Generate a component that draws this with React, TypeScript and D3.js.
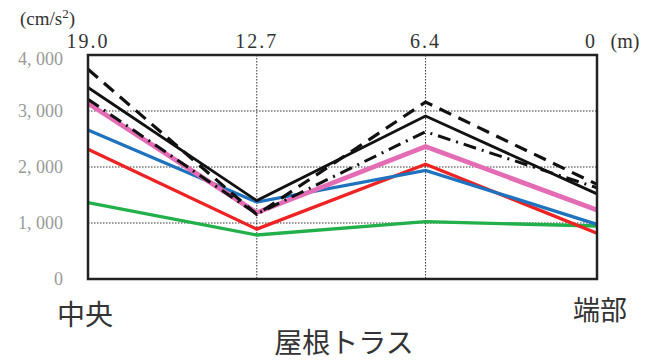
import React from "react";
import * as d3 from "d3";

const positions = [19.0, 12.7, 6.4, 0];
const positionLabels = ["19.0", "12.7", "6.4", "0"];
const yTicks = [0, 1000, 2000, 3000, 4000];
const yTickLabels = ["0", "1, 000", "2, 000", "3, 000", "4, 000"];

const blackDashed = [3745, 1150, 3160, 1690];
const blackSolid = [3420, 1400, 2910, 1520];
const blackDashDot = [3210, 1160, 2630, 1630];
const pink = [3140, 1185, 2365, 1232];
const blue = [2660, 1375, 1940, 975];
const red = [2316, 890, 2050, 818];
const green = [1365, 786, 1024, 946];

const seriesList = [
  { name: "green", values: green, color: "#22b04a", width: 3.3, dash: "" },
  { name: "red", values: red, color: "#ee2222", width: 3.3, dash: "" },
  { name: "blue", values: blue, color: "#1f72be", width: 3.3, dash: "" },
  { name: "pink", values: pink, color: "#e46cb4", width: 4.8, dash: "" },
  { name: "blackDashDot", values: blackDashDot, color: "#111", width: 3, dash: "13,6,2,6" },
  { name: "blackSolid", values: blackSolid, color: "#111", width: 2.8, dash: "" },
  { name: "blackDashed", values: blackDashed, color: "#111", width: 3.2, dash: "13,8" },
];

export default function App() {
  const W = 648, H = 363;
  const left = 88, right = 597, top = 55, bottom = 279;
  const x = d3.scaleLinear().domain([19, 0]).range([left, right]);
  const y = d3.scaleLinear().domain([0, 4000]).range([bottom, top]);
  const line = d3.line<number>().x((_, i) => x(positions[i])).y((d) => y(d));
  const serif = "'Liberation Serif', 'DejaVu Serif', serif";
  const jp = "'Noto Sans CJK JP', sans-serif";

  return (
    <svg width={W} height={H} style={{ position: "absolute", left: 0, top: 0, background: "#fff" }}>
      {yTicks.slice(1, 4).map((t) => (
        <line key={"h" + t} x1={left} x2={right} y1={y(t)} y2={y(t)} stroke="#333" strokeWidth={1} strokeDasharray="1.5,1.5" />
      ))}
      {positions.slice(1, 3).map((p) => (
        <line key={"v" + p} x1={x(p)} x2={x(p)} y1={top} y2={bottom} stroke="#333" strokeWidth={1} strokeDasharray="1.5,1.5" />
      ))}
      {seriesList.map((s) => (
        <path key={s.name} d={line(s.values) || ""} fill="none" stroke={s.color} strokeWidth={s.width} strokeDasharray={s.dash || undefined} strokeLinejoin="miter" />
      ))}
      <rect x={left} y={top} width={right - left} height={bottom - top} fill="none" stroke="#222" strokeWidth={2.5} />
      {yTicks.map((t, i) => (
        <text key={"yt" + t} x={63} y={y(t) + (t === 4000 ? 4 : 0)} textAnchor="end" dominantBaseline="central" fill="#999" fontFamily={serif} fontSize={18}>
          {yTickLabels[i]}
        </text>
      ))}
      {positions.map((p, i) => (
        <text key={"xt" + p} x={x(p) + (i === 3 ? -6 : 0)} y={48} textAnchor="middle" fill="#333" fontFamily={serif} fontSize={20} letterSpacing={2}>
          {positionLabels[i]}
        </text>
      ))}
      <text x={625} y={48} textAnchor="middle" fill="#333" fontFamily={serif} fontSize={20}>(m)</text>
      <text x={20} y={25} fill="#333" fontFamily={serif} fontSize={19}>
        (cm/s<tspan dy={-7} fontSize={13}>2</tspan><tspan dy={7}>)</tspan>
      </text>
      <text x={85} y={325} textAnchor="middle" fill="#333" fontFamily={jp} fontSize={28}>中央</text>
      <text x={600} y={320} textAnchor="middle" fill="#333" fontFamily={jp} fontSize={27}>端部</text>
      <text x={344} y={353} textAnchor="middle" fill="#333" fontFamily={jp} fontSize={28}>屋根トラス</text>
    </svg>
  );
}
